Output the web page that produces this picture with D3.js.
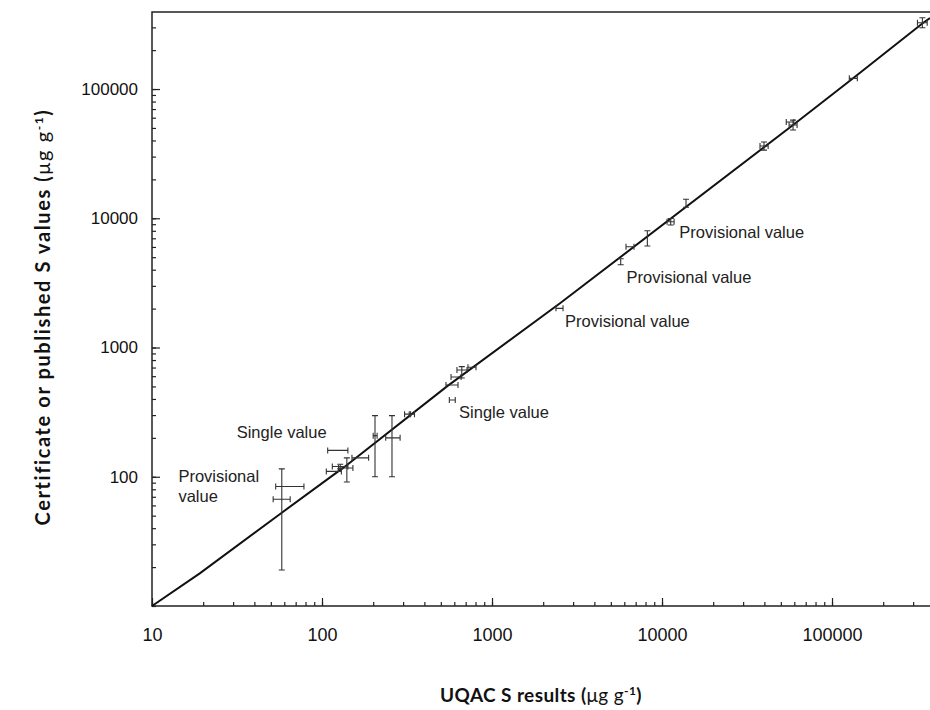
<!DOCTYPE html>
<html>
<head>
<meta charset="utf-8">
<script src="https://cdn.jsdelivr.net/npm/d3@7"></script>
<style>
  body { margin: 0; background: #fff; }
</style>
</head>
<body>
<script>
// UQAC S result vs certificate / published value, with error bars (null = no bar)
var uqac      = [58,   65,   124,  117,  140,  128,  168,  205,  258,  318,  338,  584,  580,  614,  664,  760,  2478, 5715, 6486, 8200, 11250, 13840, 39800, 59000, 56600, 133400, 340000];
var cert      = [67,   84,   160,  110,  117,  120,  140,  208,  200,  305,  305,  393,  513,  591,  670,  703,  2010, 4614, 6026, 7030, 9400,  13060, 36200, 52700, 55600, 121000, 326000];
var uqacLow   = [51.6, 53.4, 108,  106,  125,  115,  150,  200,  237,  306,  326,  561,  536,  574,  622,  722,  2377, null, 6140, null, 10700, null,  37700, 55900, 53800, 126400, 318000];
var uqacHigh  = [65,   78.3, 142,  130,  152,  142,  188,  211,  288,  332,  350,  608,  631,  658,  713,  805,  2617, null, 6840, null, 11780, null,  42100, 62300, 59600, 140900, 363000];
var certLow   = [19,   null, null, null, 91,   115,  null, 100,  100,  null, null, null, null, null, 581,  null, null, 4375, null, 6095, 8870,  12160, 33700, 48200, null,  null,   298000];
var certHigh  = [115,  null, null, null, 140,  125,  null, 297,  297,  null, null, null, null, null, 711,  null, null, 4866, null, 8015, 9950,  14020, 38900, 57500, null,  null,   356000];

// fitted line
var lineX = [10, 19.1, 58,   136,   541, 2512, 59000, 133000, 342700, 377000];
var lineY = [10, 17.9, 52.7, 119.7, 498, 2198, 52700, 121000, 324000, 354000];

// annotations (left edge / baseline in data units)
var noteText = ["Provisional value", "Provisional value", "Provisional value", "Single value", "Single value", "Provisional|value"];
var noteX    = [12650, 6190, 2690, 640, 31.5, 14.3];
var noteY    = [7000,  3170, 1450, 283, 198,  91.6];

var xTicks = [10, 100, 1000, 10000, 100000];
var yTicks = [100, 1000, 10000, 100000];

var canvasWidth = 930;
var canvasHeight = 710;
var plot = { left: 152, right: 930, top: 12, bottom: 606 };
var bodyFont = "'Liberation Sans', Arial, Helvetica, sans-serif";

var svg = d3.select("body").append("svg")
    .attr("width", canvasWidth)
    .attr("height", canvasHeight)
    .style("font-family", bodyFont);

var xScale = d3.scaleLog().domain([10, 377000]).range([plot.left, plot.right]);
var yScale = d3.scaleLog().domain([10, 394500]).range([plot.bottom, plot.top]);

var axisColor = "#222";

// minor ticks
svg.append("g")
    .attr("transform", "translate(0," + plot.bottom + ")")
    .call(d3.axisBottom(xScale).tickValues(xScale.ticks()).tickSize(-4).tickFormat(""))
    .call(g => g.select(".domain").remove());
svg.append("g")
    .attr("transform", "translate(" + plot.left + ",0)")
    .call(d3.axisLeft(yScale).tickValues(yScale.ticks()).tickSize(-4).tickFormat(""))
    .call(g => g.select(".domain").remove());

// major ticks + labels
var xAxis = svg.append("g")
    .attr("transform", "translate(0," + plot.bottom + ")")
    .call(d3.axisBottom(xScale).tickValues(xTicks).tickSize(-8).tickPadding(22).tickFormat(d3.format("d")));
xAxis.select(".domain").remove();
xAxis.selectAll("text").attr("font-size", "18px").attr("font-family", bodyFont).attr("fill", "#111");

var yAxis = svg.append("g")
    .attr("transform", "translate(" + plot.left + ",0)")
    .call(d3.axisLeft(yScale).tickValues(yTicks).tickSize(-8).tickPadding(14).tickFormat(d3.format("d")));
yAxis.select(".domain").remove();
yAxis.selectAll("text").attr("font-size", "17px").attr("font-family", bodyFont).attr("fill", "#111");

svg.selectAll(".tick line").attr("stroke", axisColor).attr("stroke-width", 1.2);

// frame: left, bottom, top
svg.append("path")
    .attr("d", "M" + plot.right + "," + plot.top + "H" + plot.left + "V" + plot.bottom + "H" + plot.right)
    .attr("fill", "none")
    .attr("stroke", axisColor)
    .attr("stroke-width", 1.5);

// fitted line
var line = d3.line()
    .x(function(d) { return xScale(d[0]); })
    .y(function(d) { return yScale(d[1]); });

svg.append("path")
    .datum(lineX.map(function(v, i) { return [v, lineY[i]]; }))
    .attr("d", line)
    .attr("fill", "none")
    .attr("stroke", "#111")
    .attr("stroke-width", 2);

// error bars
var cap = 3;
var bars = svg.append("g").attr("stroke", "#333").attr("stroke-width", 1.1).attr("fill", "none");

uqac.forEach(function(v, i) {
    var cx = xScale(v), cy = yScale(cert[i]);
    if (uqacLow[i] != null) {
        var x0 = xScale(uqacLow[i]), x1 = xScale(uqacHigh[i]);
        bars.append("path")
            .attr("d", "M" + x0 + "," + cy + "H" + x1 +
                       "M" + x0 + "," + (cy - cap) + "V" + (cy + cap) +
                       "M" + x1 + "," + (cy - cap) + "V" + (cy + cap));
    }
    if (certLow[i] != null) {
        var y0 = yScale(certLow[i]), y1 = yScale(certHigh[i]);
        bars.append("path")
            .attr("d", "M" + cx + "," + y0 + "V" + y1 +
                       "M" + (cx - cap) + "," + y0 + "H" + (cx + cap) +
                       "M" + (cx - cap) + "," + y1 + "H" + (cx + cap));
    }
});

// annotations
noteText.forEach(function(t, i) {
    var txt = svg.append("text")
        .attr("x", xScale(noteX[i]))
        .attr("y", yScale(noteY[i]))
        .attr("font-family", bodyFont)
        .attr("font-size", "16.5px")
        .attr("fill", "#222");
    t.split("|").forEach(function(part, k) {
        txt.append("tspan")
            .attr("x", xScale(noteX[i]))
            .attr("dy", k == 0 ? 0 : 20)
            .text(part);
    });
});

// axis titles
var titleFont = "Lato, 'Open Sans', sans-serif";

var xt = svg.append("text")
    .attr("x", 541)
    .attr("y", 702)
    .attr("text-anchor", "middle")
    .attr("font-family", titleFont)
    .attr("font-weight", "bold")
    .attr("font-size", "19px")
    .attr("letter-spacing", "0.4px")
    .attr("fill", "#111");
xt.append("tspan").text("UQAC S results (");
xt.append("tspan").attr("font-weight", "normal").text("\u03bcg g");
xt.append("tspan").attr("font-size", "12px").attr("dy", -7).text("-1");
xt.append("tspan").attr("dy", 7).text(")");

var yt = svg.append("text")
    .attr("transform", "translate(50,317) rotate(-90)")
    .attr("text-anchor", "middle")
    .attr("font-family", titleFont)
    .attr("font-weight", "bold")
    .attr("font-size", "20px")
    .attr("letter-spacing", "1.6px")
    .attr("fill", "#111");
yt.append("tspan").text("Certificate or published S values (");
yt.append("tspan").attr("font-weight", "normal").text("\u03bcg g");
yt.append("tspan").attr("font-size", "12px").attr("dy", -7).text("-1");
yt.append("tspan").attr("dy", 7).text(")");
</script>
</body>
</html>
